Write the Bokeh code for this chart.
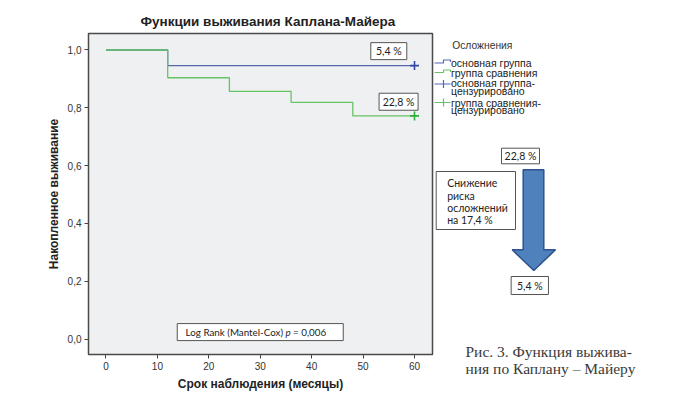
from bokeh.plotting import figure
from bokeh.models import Range1d, FixedTicker, CustomJSTickFormatter
from bokeh.layouts import row
from bokeh.embed import file_html
from bokeh.resources import INLINE
from bokeh.core.properties import value

# ---------------- data ----------------
months_main = [0, 12, 60]
surv_main = [1.0, 0.946, 0.946]
months_cmp = [0, 12, 24, 36, 48, 60]
surv_cmp = [1.0, 0.904, 0.857, 0.819, 0.772, 0.772]
censor_t = [60]
x_ticks = [0, 10, 20, 30, 40, 50, 60]
y_ticks = [0.0, 0.2, 0.4, 0.6, 0.8, 1.0]
chart_title = "Функции выживания Каплана-Майера"
x_label = "Срок наблюдения (месяцы)"
y_label = "Накопленное выживание"
legend_title = "Осложнения"
legend_items = ["основная группа", "группа сравнения",
                "основная группа-\nцензурировано", "группа сравнения-\nцензурировано"]
p_value = "0,006"
caption = ["Рис. 3. Функция выжива-", "ния по Каплану – Майеру"]

BLUE = "#5468b4"
BLUE_D = "#3346a6"
GREEN = "#66c466"
GREEN_D = "#2fae3c"
SANS = "Liberation Sans"
NUMF = "Lato"


def pct(v):
    return f"{v:.1f}".replace(".", ",") + " %"


risk_main = round((1 - surv_main[-1]) * 100, 1)
risk_cmp = round((1 - surv_cmp[-1]) * 100, 1)
reduction = round(risk_cmp - risk_main, 1)

H = 393
# ---------------- main plot ----------------
p = figure(width=434, height=H, x_range=Range1d(-3.4, 63.5), y_range=Range1d(-0.053, 1.057),
           output_backend="svg", toolbar_location=None,
           min_border_left=88, min_border_right=2, min_border_top=33, min_border_bottom=37)
p.frame_align = False
p.title.text = chart_title
p.title.text_font = SANS
p.title.text_font_size = "13.5px"
p.title.text_font_style = "bold"
p.title.text_color = "#222222"
p.title.align = "left"
p.title.offset = 52
p.title.standoff = 9

p.background_fill_color = "#eff0f2"
p.border_fill_color = "white"
p.outline_line_color = "#4a4a4a"
p.outline_line_width = 1.5
p.grid.visible = False

for ax in (p.xaxis[0], p.yaxis[0]):
    ax.axis_line_color = None
    ax.major_tick_out = 4
    ax.major_tick_in = 0
    ax.minor_tick_line_color = None
    ax.major_tick_line_color = "#444444"
    ax.major_label_text_font = SANS
    ax.major_label_text_font_size = "10px"
    ax.major_label_text_color = "#333333"
    ax.major_label_standoff = 3
    ax.axis_label_text_font = SANS
    ax.axis_label_text_font_size = "12px"
    ax.axis_label_text_font_style = "bold"
    ax.axis_label_text_color = "#222222"

p.xaxis.ticker = FixedTicker(ticks=x_ticks)
p.yaxis.ticker = FixedTicker(ticks=y_ticks)
p.yaxis.formatter = CustomJSTickFormatter(code="return tick.toFixed(1).replace('.', ',');")
p.xaxis.axis_label = x_label
p.yaxis.axis_label = y_label
p.xaxis.axis_label_standoff = 4
p.yaxis.axis_label_standoff = 4

p.step(months_main, surv_main, mode="after", line_color=BLUE, line_width=1.3)
p.step(months_cmp, surv_cmp, mode="after", line_color=GREEN, line_width=1.3)
p.scatter(censor_t, [surv_main[-1]], marker="cross", size=9, line_color=BLUE_D, line_width=1.6)
p.scatter(censor_t, [surv_cmp[-1]], marker="cross", size=9, line_color=GREEN_D, line_width=1.6)

# percentage boxes near curve ends
lab_x = [censor_t[0] - 5.0, censor_t[0] - 3.1]
lab_y = [surv_main[-1] + 0.05, surv_cmp[-1] + 0.049]
p.rect(lab_x, lab_y, width=[36, 39], height=17, width_units="screen", height_units="screen",
       fill_color="white", line_color="#555555", line_width=1)
p.text(lab_x, lab_y, text=[pct(risk_main), pct(risk_cmp)], text_align="center",
       text_baseline="middle", text_font=value(NUMF), text_font_size="10.5px", text_color="#222222")

# log rank box
LR = "9.8px"
p.rect([30], [0.0245], width=166, height=17, width_units="screen", height_units="screen",
       fill_color="white", line_color="#555555", line_width=1)
p.text([35.4], [0.0245], text=["Log Rank (Mantel-Cox)"], text_align="right", text_baseline="middle",
       x_offset=-5, text_font=value(NUMF), text_font_size=LR, text_color="#222222")
p.text([35.4], [0.0245], text=["p"], text_align="center", text_baseline="middle",
       text_font=value(NUMF), text_font_size=LR, text_font_style="italic", text_color="#222222")
p.text([35.4], [0.0245], text=["= " + p_value], text_align="left", text_baseline="middle",
       x_offset=5, text_font=value(NUMF), text_font_size=LR, text_color="#222222")

# ---------------- right panel (pixel coordinates of the page) ----------------
W2 = 241
q = figure(width=W2, height=H, x_range=Range1d(434 - 432, 434 - 432 + W2), y_range=Range1d(H, 0),
           output_backend="svg", toolbar_location=None, min_border=0)
q.frame_align = False
q.axis.visible = False
q.grid.visible = False
q.outline_line_color = None
q.background_fill_color = "white"
q.border_fill_color = "white"

# legend
q.text([19.7], [44.5], text=[legend_title], text_align="left", text_baseline="middle",
       text_font=value(SANS), text_font_size="10.3px", text_color="#333333")
q.line([0, 11, 11, 18, 18], [62.5, 62.5, 59.5, 59.5, 61.5], line_color=BLUE, line_width=1.2)
q.line([0, 11, 11, 18, 18], [72, 72, 69.5, 69.5, 71.5], line_color=GREEN, line_width=1.2)
q.line([0, 18], [83.5, 83.5], line_color=BLUE, line_width=1.2)
q.line([11, 11], [79.5, 87.5], line_color=BLUE, line_width=1.2)
q.line([0, 18], [102, 102], line_color=GREEN, line_width=1.2)
q.line([11, 11], [98, 106], line_color=GREEN, line_width=1.2)
leg_lines = []
for it in legend_items:
    leg_lines.extend(it.split("\n"))
leg_y = [62.5, 72.5, 82.5, 90, 102, 109.8]
q.text([18.5] * len(leg_lines), leg_y, text=leg_lines, text_align="left", text_baseline="middle",
       text_font=value(SANS), text_font_size="10.5px", text_color="#222222")

# arrow
q.patch([90.7, 111.3, 111.3, 123, 101.3, 79.7, 90.7, 90.7],
        [169.3, 169.3, 249.3, 249.3, 270, 249.3, 249.3, 169.3],
        fill_color="#4f81bd", line_color="#2f528f", line_width=1.5)

# boxes
q.rect([88, 43.35, 97.3], [155.5, 200, 285], width=[38, 79.3, 37.3], height=[15.6, 58, 18],
       fill_color="white", line_color="#555555", line_width=1)
q.text([88, 97.3], [155.5, 285], text=[pct(risk_cmp), pct(risk_main)], text_align="center",
       text_baseline="middle", text_font=value(NUMF), text_font_size="10.5px", text_color="#222222")
q.text([14.7] * 4, [182.3, 195, 207, 219.5],
       text=["Снижение", "риска", "осложнений", "на " + pct(reduction)],
       text_align="left", text_baseline="middle", text_font=value(NUMF), text_font_size="10.5px",
       text_color="#222222")

# caption
q.text([33, 33], [350.7, 368.3], text=caption, text_align="left", text_baseline="middle",
       text_font=value("Liberation Serif"), text_font_size="15.5px", text_color="#3a3a3a")

layout = row(p, q)
open("out.html", "w").write(file_html(layout, INLINE))
